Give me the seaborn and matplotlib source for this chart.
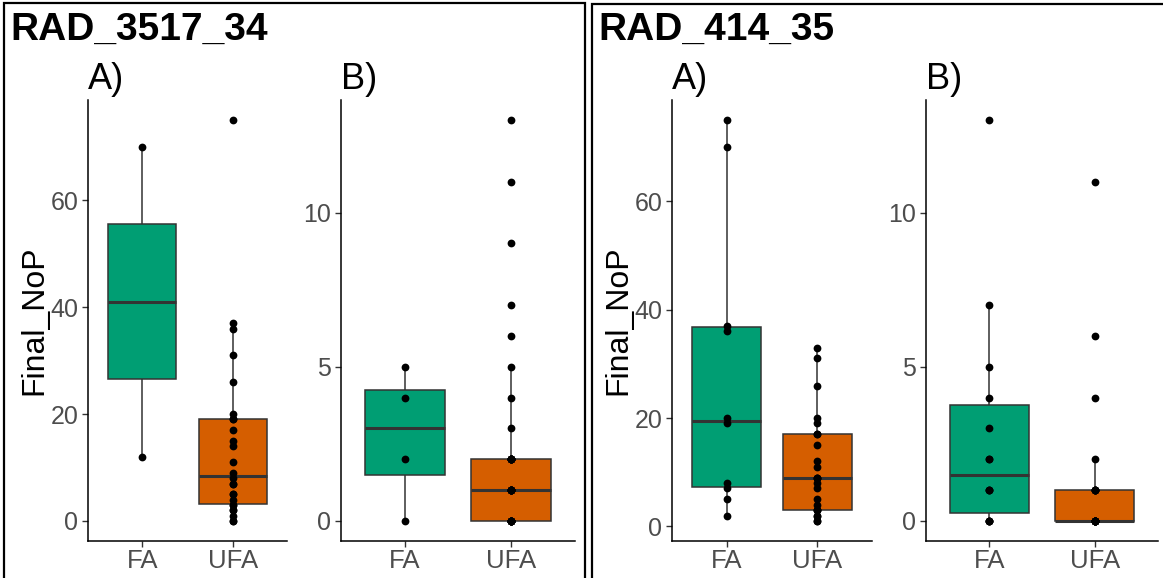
import pandas as pd
import matplotlib.pyplot as plt
import matplotlib.patches as patches
import seaborn as sns

# values
fa_3517_A = [12, 70]
ufa_3517_A = [0, 0, 1, 2, 2, 3, 3, 4, 5, 5, 7, 7, 8, 9, 11, 14, 15, 17, 19, 19, 20, 26, 31, 36, 37, 75]
fa_3517_B = [0, 2, 4, 5]
ufa_3517_B = [0, 0, 0, 0, 0, 0, 0, 0, 0, 1, 1, 1, 1, 1, 1, 1, 1,
              2, 2, 2, 2, 2, 2, 2, 2, 3, 4, 5, 6, 7, 9, 11, 13]
fa_414_A = [2, 5, 7, 8, 19, 20, 36, 37, 70, 75]
ufa_414_A = [1, 1, 2, 2, 3, 3, 3, 4, 5, 7, 8, 9, 9, 9, 11, 12, 15, 17, 17, 19, 20, 26, 31, 33]
fa_414_B = [0, 0, 0, 0, 1, 1, 1, 2, 2, 3, 4, 5, 7, 13]
ufa_414_B = [0, 0, 0, 0, 0, 0, 0, 0, 0, 0, 0, 1, 1, 1, 1, 1, 2, 4, 6, 11]

markers = ['RAD_3517_34', 'RAD_414_35']
traits = ['A)', 'B)']
parents = ['FA', 'UFA']
ticks_A = [0, 20, 40, 60]
ticks_B = [0, 5, 10]

rows = []
for marker, trait, parent, vals in [
        ('RAD_3517_34', 'A)', 'FA', fa_3517_A), ('RAD_3517_34', 'A)', 'UFA', ufa_3517_A),
        ('RAD_3517_34', 'B)', 'FA', fa_3517_B), ('RAD_3517_34', 'B)', 'UFA', ufa_3517_B),
        ('RAD_414_35', 'A)', 'FA', fa_414_A), ('RAD_414_35', 'A)', 'UFA', ufa_414_A),
        ('RAD_414_35', 'B)', 'FA', fa_414_B), ('RAD_414_35', 'B)', 'UFA', ufa_414_B)]:
    for v in vals:
        rows.append({'marker': marker, 'trait': trait, 'Parent': parent, 'Final_NoP': v})
df = pd.DataFrame(rows)

sns.set_style('ticks')
plt.rcParams['font.family'] = ['Liberation Sans', 'DejaVu Sans']
plt.rcParams['text.color'] = 'black'
plt.rcParams['axes.labelcolor'] = 'black'

W, H = 1163, 578
fig = plt.figure(figsize=(W / 100, H / 100), dpi=100)
pal = {'FA': '#009E73', 'UFA': '#D55E00'}

# axes boxes in pixels: left, right
boxes = {('RAD_3517_34', 'A)'): (88, 287), ('RAD_3517_34', 'B)'): (341, 575),
         ('RAD_414_35', 'A)'): (672, 872), ('RAD_414_35', 'B)'): (926, 1158)}
top, bottom = 100, 541

for (marker, trait), (x0, x1) in boxes.items():
    ax = fig.add_axes([x0 / W, 1 - bottom / H, (x1 - x0) / W, (bottom - top) / H])
    sub = df[(df['marker'] == marker) & (df['trait'] == trait)]
    sns.boxplot(data=sub, x='Parent', y='Final_NoP', hue='Parent', order=parents,
                hue_order=parents, palette=pal, width=0.75, showfliers=False,
                showcaps=False, linecolor='#333333', linewidth=1.1, legend=False,
                medianprops={'linewidth': 2.2, 'color': '#333333'},
                saturation=1, ax=ax)
    sns.stripplot(data=sub, x='Parent', y='Final_NoP', order=parents, jitter=False,
                  color='black', size=5.6, ax=ax, zorder=5)
    lo, hi = sub['Final_NoP'].min(), sub['Final_NoP'].max()
    pad = 0.05 * (hi - lo)
    ax.set_ylim(lo - pad, hi + pad)
    ax.set_xlim(-0.6, 1.6)
    ax.set_yticks(ticks_A if trait == 'A)' else ticks_B)
    sns.despine(ax=ax)
    for s in ['left', 'bottom']:
        ax.spines[s].set_linewidth(1.1)
        ax.spines[s].set_color('black')
    ax.tick_params(axis='both', labelsize=18, labelcolor='#4D4D4D', color='#333333',
                   length=4, width=1, pad=3)
    ax.tick_params(axis='x', labelsize=18.5, pad=2)
    ax.set_xlabel('')
    if trait == 'A)':
        ax.set_ylabel('Final_NoP', fontsize=23, color='black', labelpad=1)
    else:
        ax.set_ylabel('')
    ax.set_title(trait, loc='left', fontsize=26, pad=8, color='black')

# outer panel borders and titles
for (px0, px1, py0), marker in zip([(4, 585, 3), (592, 1175, 4)], markers):
    rect = patches.Rectangle((px0 / W, -0.1), (px1 - px0) / W, 0.1 + 1 - py0 / H,
                             transform=fig.transFigure, fill=False,
                             edgecolor='black', linewidth=1.6)
    fig.add_artist(rect)
    fig.text((px0 + 6) / W, 1 - 30 / H, marker, fontsize=28, fontweight='bold',
             va='center', ha='left', color='black')

fig.savefig('out.png', dpi=100)
